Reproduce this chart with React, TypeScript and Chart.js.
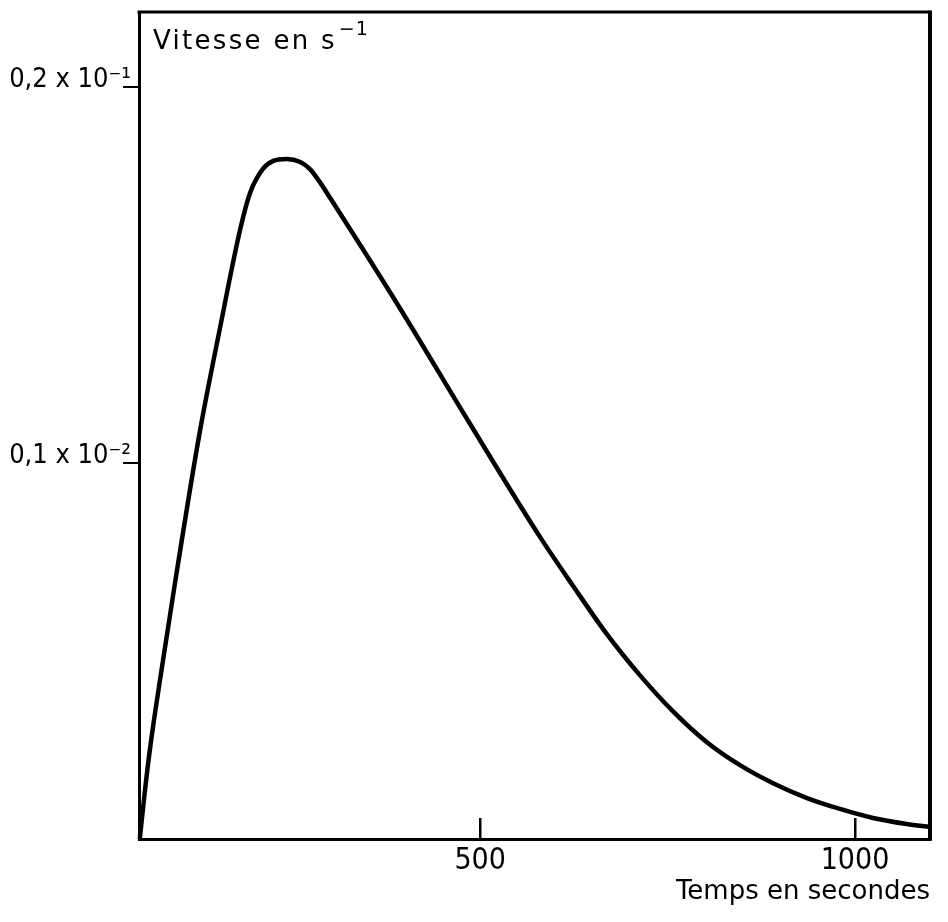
import React, { useEffect, useRef } from "react";
import { Chart, registerables } from "chart.js";

Chart.register(...registerables);

// Time in seconds
const timeSeconds = [46, 53, 60, 73, 93, 126, 153, 180, 193, 210, 224, 242, 260, 273, 286, 300, 393, 486, 580, 624, 669, 713, 757, 802, 846, 890, 936, 980, 1024, 1069, 1100];
// Speed (chart units: tick 1 = "0,1 x 10^-2", tick 2 = "0,2 x 10^-1")
const vitesse = [0, 0.13, 0.245, 0.423, 0.681, 1.082, 1.359, 1.622, 1.718, 1.782, 1.804, 1.809, 1.801, 1.782, 1.748, 1.705, 1.412, 1.106, 0.803, 0.673, 0.545, 0.436, 0.34, 0.258, 0.197, 0.149, 0.109, 0.08, 0.056, 0.04, 0.032];

const xTickValues = [500, 1000];
const xTickLabels = ["500", "1000"];
const yTickValues = [1, 2];
const yTickLabels = ["0,1 x 10\u207B\u00B2", "0,2 x 10\u207B\u00B9"];

const xRange = [45, 1100];
const yRange = [0, 2.2];

const yAxisTitle = "Vitesse en s";
const yAxisTitleSup = "\u22121";
const xAxisTitle = "Temps en secondes";

const TEXT_FONT = "'DejaVu Sans', sans-serif";
const NUM_FONT = "'Liberation Sans Narrow', 'DejaVu Sans Condensed', 'DejaVu Sans', sans-serif";

export default function App() {
  const ref = useRef<HTMLCanvasElement | null>(null);

  useEffect(() => {
    if (!ref.current) return;
    const framePlugin = {
      id: "frame",
      afterDraw(chart: any) {
        const { ctx, chartArea } = chart;
        ctx.save();
        ctx.strokeStyle = "#000";
        ctx.lineWidth = 3;
        ctx.beginPath();
        ctx.moveTo(chartArea.left - 1.5, chartArea.top);
        ctx.lineTo(chartArea.right, chartArea.top);
        ctx.stroke();
        ctx.lineWidth = 4;
        ctx.beginPath();
        ctx.moveTo(chartArea.right, chartArea.top - 1.5);
        ctx.lineTo(chartArea.right, chartArea.bottom + 1.5);
        ctx.stroke();
        ctx.fillStyle = "#000";
        ctx.font = `26px ${TEXT_FONT}`;
        ctx.textAlign = "left";
        ctx.textBaseline = "alphabetic";
        (ctx as any).letterSpacing = "2.3px";
        const x0 = chartArea.left + 14;
        const base = chartArea.top + 37;
        ctx.fillText(yAxisTitle, x0, base);
        const w = ctx.measureText(yAxisTitle).width;
        ctx.font = `19px ${TEXT_FONT}`;
        (ctx as any).letterSpacing = "1px";
        ctx.fillText(yAxisTitleSup, x0 + w + 2, base - 14);
        ctx.restore();
      },
    };

    const chart = new Chart(ref.current, {
      type: "scatter",
      data: {
        datasets: [
          {
            data: timeSeconds.map((t, i) => ({ x: t, y: vitesse[i] })),
            showLine: true,
            borderColor: "#000",
            borderWidth: 4.5,
            pointRadius: 0,
            cubicInterpolationMode: "monotone",
            clip: false,
          },
        ],
      },
      options: {
        responsive: false,
        animation: false,
        events: [],
        layout: { padding: { left: 8, top: 12, right: 18, bottom: 0 } },
        plugins: { legend: { display: false }, tooltip: { enabled: false } },
        scales: {
          x: {
            type: "linear",
            min: xRange[0],
            max: xRange[1],
            afterBuildTicks: (s: any) => {
              s.ticks = xTickValues.map((v) => ({ value: v }));
            },
            afterFit: (s: any) => {
              s.height = 83;
            },
            border: { display: true, color: "#000", width: 3 },
            grid: { drawOnChartArea: false, tickLength: -21, color: "#000", lineWidth: 2.5 },
            ticks: {
              color: "#000",
              font: { family: NUM_FONT, size: 30 },
              padding: 25,
              maxRotation: 0,
              callback: (v: any) => {
                const i = xTickValues.indexOf(Number(v));
                return i >= 0 ? xTickLabels[i] : "";
              },
            },
            title: {
              display: true,
              text: xAxisTitle,
              align: "end",
              color: "#000",
              font: { family: TEXT_FONT, size: 26 },
              padding: { top: 0, bottom: 14 },
            },
          },
          y: {
            type: "linear",
            min: yRange[0],
            max: yRange[1],
            afterBuildTicks: (s: any) => {
              s.ticks = yTickValues.map((v) => ({ value: v }));
            },
            afterFit: (s: any) => {
              s.width = 131;
            },
            border: { display: true, color: "#000", width: 3 },
            grid: { drawOnChartArea: false, tickLength: 16, color: "#000", lineWidth: 2 },
            ticks: {
              color: "#000",
              font: { family: NUM_FONT, size: 27 },
              padding: -8,
              labelOffset: -7,
              callback: (v: any) => {
                const i = yTickValues.indexOf(Number(v));
                return i >= 0 ? yTickLabels[i] : "";
              },
            },
          },
        },
      },
      plugins: [framePlugin],
    });
    return () => chart.destroy();
  }, []);

  return (
    <div style={{ position: "absolute", left: 0, top: 0, width: 948, height: 922, background: "#fff" }}>
      <canvas ref={ref} width={948} height={922} style={{ display: "block" }} />
    </div>
  );
}
